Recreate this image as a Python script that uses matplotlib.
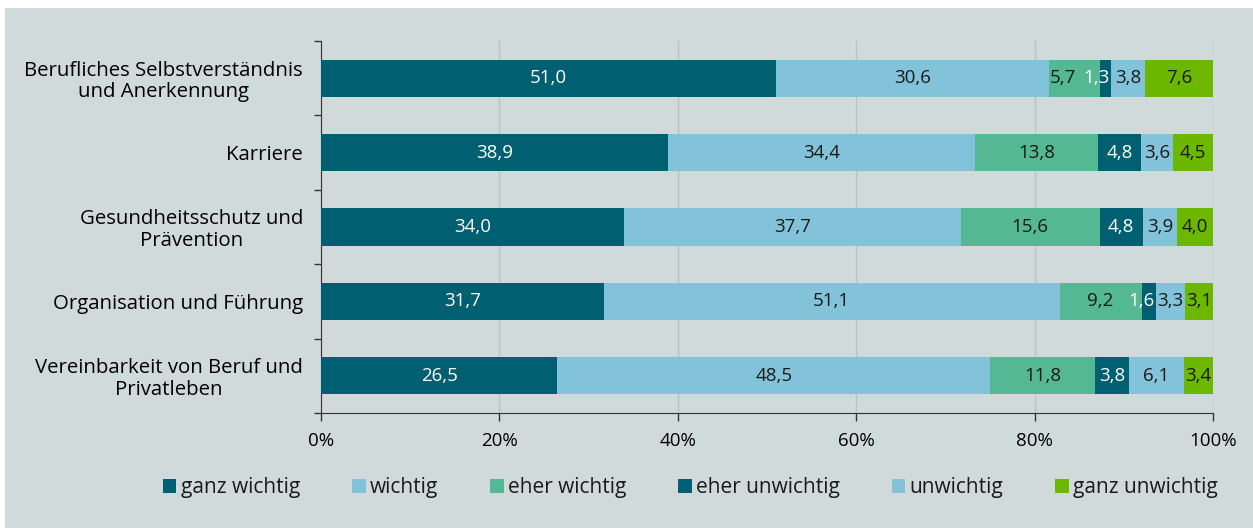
import matplotlib
matplotlib.use("Agg")
import matplotlib.pyplot as plt
from matplotlib.patches import Rectangle
import numpy as np

categories = [
    "Berufliches Selbstverständnis\nund Anerkennung",
    "Karriere",
    "Gesundheitsschutz und\nPrävention",
    "Organisation und Führung",
    "Vereinbarkeit von Beruf und\nPrivatleben",
]
series_names = ["ganz wichtig", "wichtig", "eher wichtig",
                "eher unwichtig", "unwichtig", "ganz unwichtig"]
ganz_wichtig = [51.0, 38.9, 34.0, 31.7, 26.5]
wichtig = [30.6, 34.4, 37.7, 51.1, 48.5]
eher_wichtig = [5.7, 13.8, 15.6, 9.2, 11.8]
eher_unwichtig = [1.3, 4.8, 4.8, 1.6, 3.8]
unwichtig = [3.8, 3.6, 3.9, 3.3, 6.1]
ganz_unwichtig = [7.6, 4.5, 4.0, 3.1, 3.4]

series = [ganz_wichtig, wichtig, eher_wichtig, eher_unwichtig, unwichtig, ganz_unwichtig]
colors = ["#005f70", "#83c3da", "#53b893", "#005f70", "#83c3da", "#6cb800"]
text_colors = ["white", "#1a1a1a", "#1a1a1a", "white", "#1a1a1a", "#1a1a1a"]

bg = "#d0dadb"
plt.rcParams['font.family'] = ['Open Sans', 'DejaVu Sans']
plt.rcParams['font.size'] = 13
plt.rcParams['text.color'] = "#1a1a1a"

fig = plt.figure(figsize=(12.53, 5.28), dpi=100, facecolor="white")
fig.patches.append(Rectangle((5 / 1253, 0), 1, 1 - 8 / 528, transform=fig.transFigure,
                             facecolor=bg, edgecolor="none", zorder=-10))
ax = fig.add_axes([321 / 1253, 1 - 413 / 528, (1213 - 321) / 1253, (413 - 41) / 528])
ax.set_facecolor(bg)

y = np.arange(len(categories))
left = np.zeros(len(categories))
for k, (vals, name, col, tcol) in enumerate(zip(series, series_names, colors, text_colors)):
    vals = np.array(vals)
    nxt = series[k + 1] if k + 1 < len(series) else [100] * len(categories)
    ax.barh(y, vals, left=left, height=0.5, color=col, label=name, zorder=3)
    for yi, l, v, vn in zip(y, left, vals, nxt):
        txt = f"{v:.1f}".replace(".", ",")
        if v < 2:
            # narrow segment: label sits against the right edge, spilling left
            x, ha = l + v - 0.15, "right"
        elif v < 8 and vn < 2:
            # make room for the narrow neighbour's label
            x, ha = l + 0.1, "left"
        else:
            x, ha = l + v / 2, "center"
        ax.text(x, yi, txt, ha=ha, va="center", color=tcol, fontsize=13.5, zorder=4)
    left += vals

ax.set_xlim(0, 100)
ax.set_ylim(4.5, -0.5)
ax.set_xticks([0, 20, 40, 60, 80, 100])
ax.set_xticklabels(["0%", "20%", "40%", "60%", "80%", "100%"], fontsize=13.5)
ax.set_yticks(y)
ax.set_yticklabels(categories, multialignment="center", fontsize=14.7,
                   linespacing=1.12)
ax.set_yticks(np.arange(-0.5, 5, 1), minor=True)
ax.tick_params(axis="y", which="major", length=0, pad=13)
ax.tick_params(axis="y", which="minor", length=5, width=1, color="#333333")
ax.tick_params(axis="x", length=6, width=1, color="#333333", pad=8)
ax.grid(axis="x", color="#b9c3c4", linewidth=1, zorder=0)
for s in ["top", "right"]:
    ax.spines[s].set_visible(False)
ax.spines["left"].set_color("#333333")
ax.spines["bottom"].set_color("#333333")

handles, labels = ax.get_legend_handles_labels()
fig.legend(handles, labels, loc="center", bbox_to_anchor=(0.551, 0.076), ncol=6,
           frameon=False, handlelength=0.65, handleheight=0.65, handletextpad=0.2,
           columnspacing=2.5, fontsize=15)

fig.savefig("out.png", dpi=100, facecolor="white")
